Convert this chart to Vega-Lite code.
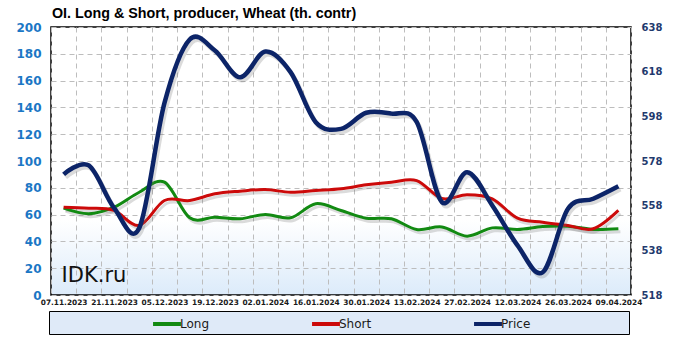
{
  "$schema": "https://vega.github.io/schema/vega-lite/v6.json",
  "width": 580,
  "height": 268,
  "autosize": {"type": "none"},
  "padding": {"left": 51, "top": 27, "right": 50, "bottom": 46},
  "background": "#ffffff",
  "title": {
    "text": "OI.  Long & Short, producer, Wheat (th. contr)",
    "anchor": "start",
    "frame": "group",
    "font": "Liberation Sans",
    "fontSize": 14.3,
    "fontWeight": "bold",
    "color": "#000000",
    "baseline": "alphabetic",
    "offset": 9,
    "dx": 1,
    "dy": 20
  },
  "data": {
    "values": [
      {"d": "07.11.2023", "s": "Long", "v": 64.8}, {"d": "14.11.2023", "s": "Long", "v": 60.6}, {"d": "21.11.2023", "s": "Long", "v": 65.5}, {"d": "28.11.2023", "s": "Long", "v": 76.7}, {"d": "05.12.2023", "s": "Long", "v": 84.2}, {"d": "12.12.2023", "s": "Long", "v": 57.6}, {"d": "19.12.2023", "s": "Long", "v": 58.1}, {"d": "26.12.2023", "s": "Long", "v": 56.9}, {"d": "02.01.2024", "s": "Long", "v": 60.1}, {"d": "09.01.2024", "s": "Long", "v": 57.6}, {"d": "16.01.2024", "s": "Long", "v": 68.1}, {"d": "23.01.2024", "s": "Long", "v": 63.1}, {"d": "30.01.2024", "s": "Long", "v": 57.3}, {"d": "06.02.2024", "s": "Long", "v": 56.9}, {"d": "13.02.2024", "s": "Long", "v": 48.9}, {"d": "20.02.2024", "s": "Long", "v": 50.8}, {"d": "27.02.2024", "s": "Long", "v": 43.9}, {"d": "05.03.2024", "s": "Long", "v": 50.1}, {"d": "12.03.2024", "s": "Long", "v": 48.9}, {"d": "19.03.2024", "s": "Long", "v": 51.1}, {"d": "26.03.2024", "s": "Long", "v": 51.3}, {"d": "02.04.2024", "s": "Long", "v": 48.9}, {"d": "09.04.2024", "s": "Long", "v": 49.4},
      {"d": "07.11.2023", "s": "Short", "v": 65.5}, {"d": "14.11.2023", "s": "Short", "v": 64.8}, {"d": "21.11.2023", "s": "Short", "v": 63.1}, {"d": "28.11.2023", "s": "Short", "v": 51.9}, {"d": "05.12.2023", "s": "Short", "v": 70.5}, {"d": "12.12.2023", "s": "Short", "v": 70.5}, {"d": "19.12.2023", "s": "Short", "v": 75.5}, {"d": "26.12.2023", "s": "Short", "v": 77.5}, {"d": "02.01.2024", "s": "Short", "v": 78.7}, {"d": "09.01.2024", "s": "Short", "v": 76.7}, {"d": "16.01.2024", "s": "Short", "v": 78.0}, {"d": "23.01.2024", "s": "Short", "v": 79.3}, {"d": "30.01.2024", "s": "Short", "v": 82.2}, {"d": "06.02.2024", "s": "Short", "v": 84.2}, {"d": "13.02.2024", "s": "Short", "v": 85.4}, {"d": "20.02.2024", "s": "Short", "v": 72.0}, {"d": "27.02.2024", "s": "Short", "v": 74.8}, {"d": "05.03.2024", "s": "Short", "v": 71.8}, {"d": "12.03.2024", "s": "Short", "v": 57.3}, {"d": "19.03.2024", "s": "Short", "v": 54.3}, {"d": "26.03.2024", "s": "Short", "v": 51.9}, {"d": "02.04.2024", "s": "Short", "v": 49.4}, {"d": "09.04.2024", "s": "Short", "v": 63.1},
      {"d": "07.11.2023", "s": "Price", "v": 572.0}, {"d": "14.11.2023", "s": "Price", "v": 576.0}, {"d": "21.11.2023", "s": "Price", "v": 557.0}, {"d": "28.11.2023", "s": "Price", "v": 548.0}, {"d": "05.12.2023", "s": "Price", "v": 604.0}, {"d": "12.12.2023", "s": "Price", "v": 632.4}, {"d": "19.12.2023", "s": "Price", "v": 627.5}, {"d": "26.12.2023", "s": "Price", "v": 615.5}, {"d": "02.01.2024", "s": "Price", "v": 627.0}, {"d": "09.01.2024", "s": "Price", "v": 617.8}, {"d": "16.01.2024", "s": "Price", "v": 595.4}, {"d": "23.01.2024", "s": "Price", "v": 592.4}, {"d": "30.01.2024", "s": "Price", "v": 599.6}, {"d": "06.02.2024", "s": "Price", "v": 599.2}, {"d": "13.02.2024", "s": "Price", "v": 595.5}, {"d": "20.02.2024", "s": "Price", "v": 559.6}, {"d": "27.02.2024", "s": "Price", "v": 573.0}, {"d": "05.03.2024", "s": "Price", "v": 558.1}, {"d": "12.03.2024", "s": "Price", "v": 540.2}, {"d": "19.03.2024", "s": "Price", "v": 528.2}, {"d": "26.03.2024", "s": "Price", "v": 556.6}, {"d": "02.04.2024", "s": "Price", "v": 561.1}, {"d": "09.04.2024", "s": "Price", "v": 566.7}
    ]
  },
  "encoding": {
    "x": {
      "field": "d",
      "type": "ordinal",
      "sort": null,
      "bandPosition": 0.5,
      "scale": {
        "type": "band",
        "paddingInner": 0,
        "paddingOuter": 0,
        "domain": ["07.11.2023","14.11.2023","21.11.2023","28.11.2023","05.12.2023","12.12.2023","19.12.2023","26.12.2023","02.01.2024","09.01.2024","16.01.2024","23.01.2024","30.01.2024","06.02.2024","13.02.2024","20.02.2024","27.02.2024","05.03.2024","12.03.2024","19.03.2024","26.03.2024","02.04.2024","09.04.2024"]
      },
      "axis": {
        "title": null,
        "grid": true,
        "gridColor": "#bdbdbd",
        "gridDash": [5, 4],
        "gridWidth": 1,
        "tickBand": "extent",
        "ticks": false,
        "domain": false,
        "labelAngle": 0,
        "labelFont": "DejaVu Sans",
        "labelFontWeight": "bold",
        "labelFontSize": 7.4,
        "labelColor": "#1a1a1a",
        "labelPadding": 3,
        "labelOverlap": false,
        "labelExpr": "indexof(['07.11.2023','21.11.2023','05.12.2023','19.12.2023','02.01.2024','16.01.2024','30.01.2024','13.02.2024','27.02.2024','12.03.2024','26.03.2024','09.04.2024'], datum.value) >= 0 ? datum.label : ''"
      }
    }
  },
  "layer": [
    {
      "encoding": {
        "y": {
          "field": "v",
          "type": "quantitative",
          "scale": {"domain": [0, 200], "nice": false},
          "axis": {
            "title": null,
            "orient": "left",
            "values": [0, 20, 40, 60, 80, 100, 120, 140, 160, 180, 200],
            "grid": true,
            "gridColor": "#bdbdbd",
            "gridDash": [5, 4],
            "ticks": false,
            "domain": false,
            "labelFont": "DejaVu Sans",
            "labelFontWeight": "bold",
            "labelFontSize": 12,
            "labelColor": "#1b77c5",
            "labelPadding": 10
          }
        }
      },
      "layer": [
        {
          "transform": [{"filter": "datum.s != 'Price'"}],
          "mark": {"type": "line", "interpolate": "cardinal", "strokeWidth": 3, "xOffset": 2, "yOffset": 3, "opacity": 0.25, "color": "#707070"},
          "encoding": {"detail": {"field": "s"}}
        },
        {
          "transform": [{"filter": "datum.s != 'Price'"}],
          "mark": {"type": "line", "interpolate": "cardinal", "strokeWidth": 3},
          "encoding": {
            "color": {
              "field": "s",
              "type": "nominal",
              "scale": {"domain": ["Long", "Short", "Price"], "range": ["#128a12", "#cc0a0a", "#0c2468"]},
              "legend": {
                "orient": "none",
                "legendX": -2,
                "legendY": 284,
                "direction": "horizontal",
                "title": "_________________________",
                "titleOrient": "left",
                "titlePadding": 5,
                "titleFont": "DejaVu Sans",
                "titleFontSize": 8,
                "titleFontWeight": "normal",
                "titleColor": "transparent",
                "symbolType": "M-1.55,0L1.55,0",
                "symbolSize": 324,
                "symbolStrokeWidth": 4,
                "labelFont": "DejaVu Sans",
                "labelFontSize": 12,
                "labelColor": "#1a1a1a",
                "labelOffset": 2,
                "labelLimit": 300,
                "columnPadding": 94,
                "padding": 2,
                "strokeColor": "#000000",
                "fillColor": "#dfeaf8",
                "labelExpr": "datum.label == 'Price' ? 'Price\u2800\u2800\u2800\u2800\u2800\u2800\u2800\u2800\u2800\u2800\u2800' : datum.label"
              }
            }
          }
        },
        {
          "data": {"values": [{"d": "07.11.2023", "v": 9.6, "t": "IDK.ru"}]},
          "mark": {"type": "text", "align": "left", "baseline": "alphabetic", "dx": -2, "font": "DejaVu Sans", "fontSize": 21, "color": "#111111"},
          "encoding": {"text": {"field": "t"}}
        }
      ]
    },
    {
      "encoding": {
        "y": {
          "field": "v",
          "type": "quantitative",
          "scale": {"domain": [518, 638], "nice": false, "zero": false},
          "axis": {
            "title": null,
            "orient": "right",
            "values": [518, 538, 558, 578, 598, 618, 638],
            "grid": false,
            "ticks": false,
            "domain": false,
            "labelFont": "DejaVu Sans",
            "labelFontWeight": "bold",
            "labelFontSize": 10,
            "labelColor": "#1f3a6e",
            "labelPadding": 10
          }
        }
      },
      "layer": [
        {
          "transform": [{"filter": "datum.s == 'Price'"}],
          "mark": {"type": "line", "interpolate": "cardinal", "strokeWidth": 4.5, "xOffset": 2, "yOffset": 3, "opacity": 0.25, "color": "#707070"},
          "encoding": {"detail": {"field": "s"}}
        },
        {
          "transform": [{"filter": "datum.s == 'Price'"}],
          "mark": {"type": "line", "interpolate": "cardinal", "strokeWidth": 4.5},
          "encoding": {
            "color": {
              "field": "s",
              "type": "nominal",
              "scale": {"domain": ["Long", "Short", "Price"], "range": ["#128a12", "#cc0a0a", "#0c2468"]},
              "legend": {
                "orient": "none",
                "legendX": -2,
                "legendY": 284,
                "direction": "horizontal",
                "title": "_________________________",
                "titleOrient": "left",
                "titlePadding": 5,
                "titleFont": "DejaVu Sans",
                "titleFontSize": 8,
                "titleFontWeight": "normal",
                "titleColor": "transparent",
                "symbolType": "M-1.55,0L1.55,0",
                "symbolSize": 324,
                "symbolStrokeWidth": 4,
                "labelFont": "DejaVu Sans",
                "labelFontSize": 12,
                "labelColor": "#1a1a1a",
                "labelOffset": 2,
                "labelLimit": 300,
                "columnPadding": 94,
                "padding": 2,
                "strokeColor": "#000000",
                "fillColor": "#dfeaf8",
                "labelExpr": "datum.label == 'Price' ? 'Price\u2800\u2800\u2800\u2800\u2800\u2800\u2800\u2800\u2800\u2800\u2800' : datum.label"
              }
            }
          }
        }
      ]
    }
  ],
  "resolve": {"scale": {"y": "independent"}},
  "config": {
    "view": {
      "stroke": "#000000",
      "strokeWidth": 1.5,
      "fill": {
        "gradient": "linear",
        "x1": 0, "y1": 0, "x2": 0, "y2": 1,
        "stops": [
          {"offset": 0, "color": "#ffffff"},
          {"offset": 0.72, "color": "#ffffff"},
          {"offset": 1, "color": "#dcebfa"}
        ]
      }
    }
  }
}
